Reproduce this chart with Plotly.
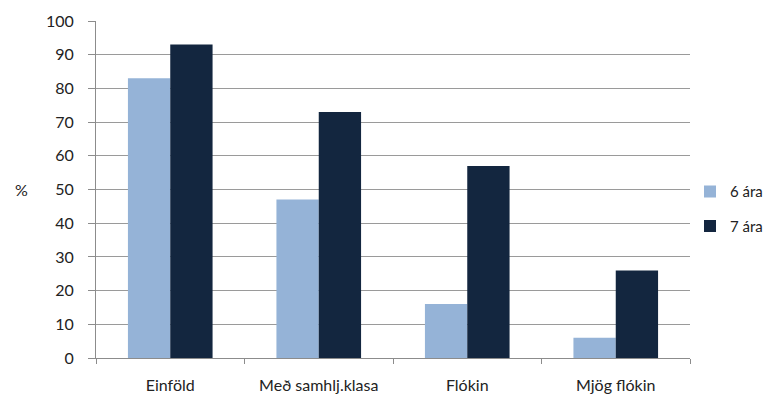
import plotly.graph_objects as go

categories = ["Einföld", "Með samhlj.klasa", "Flókin", "Mjög flókin"]
series_names = ["6 ára", "7 ára"]
values_6 = [83, 47, 16, 6]
values_7 = [93, 73, 57, 26]
y_ticks = [0, 10, 20, 30, 40, 50, 60, 70, 80, 90, 100]

font_family = "Lato, 'Open Sans', sans-serif"
fig = go.Figure()
fig.add_trace(go.Bar(x=categories, y=values_6, name=series_names[0], legendgroup="a",
                     marker=dict(color="#95B3D7", line=dict(width=0))))
fig.add_trace(go.Bar(x=categories, y=values_7, name=series_names[1], legendgroup="b",
                     marker=dict(color="#13263F", line=dict(width=0))))

fig.update_layout(
    width=770, height=393,
    margin=dict(l=88, r=88, t=13, b=43, autoexpand=False),
    paper_bgcolor="white", plot_bgcolor="white",
    barmode="group", bargap=0.43, bargroupgap=0,
    font=dict(family=font_family, size=16, color="#222222"),
    showlegend=True,
    legend=dict(x=1.0, y=0.443, xanchor="left", yanchor="middle",
                font=dict(size=15), itemsizing="constant", tracegroupgap=12,
                itemwidth=30, bgcolor="rgba(0,0,0,0)"),
    xaxis=dict(type="category", showline=True, linecolor="#8C8C8C", linewidth=1,
               ticks="outside", tickson="boundaries", ticklen=5, tickcolor="#8C8C8C",
               showgrid=False, tickfont=dict(size=16), ticklabelstandoff=13),
    yaxis=dict(range=[0, 100], tickvals=y_ticks, showline=True, linecolor="#8C8C8C",
               linewidth=1, ticks="outside", ticklen=7, tickcolor="#8C8C8C",
               showgrid=True, gridcolor="#9A9A9A", gridwidth=1, zeroline=False,
               tickfont=dict(size=16), ticklabelstandoff=11),
    annotations=[dict(text="%", xref="paper", yref="paper", x=-0.125, y=0.5,
                      xanchor="center", yanchor="middle", showarrow=False,
                      font=dict(size=16))],
)

fig.write_html("out.html")
